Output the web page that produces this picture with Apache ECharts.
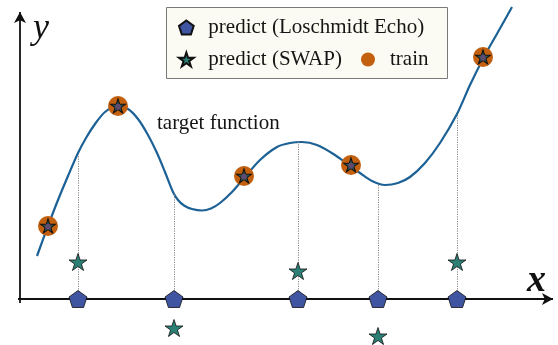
<!DOCTYPE html>
<html>
<head>
<meta charset="utf-8">
<script src="https://cdn.jsdelivr.net/npm/echarts@6/dist/echarts.min.js"></script>
<style>
  html, body { margin: 0; padding: 0; background: #ffffff; }
  #chart { width: 558px; height: 345px; }
</style>
</head>
<body>
<div id="chart"></div>
<script>
// Target function sampled along x
const curveX = [0.34, 0.56, 0.76, 0.96, 1.16, 1.32, 1.50, 1.70, 1.94, 2.16, 2.36, 2.56, 2.74, 2.90, 3.06, 3.16, 3.28, 3.44, 3.64, 3.82, 4.00, 4.24, 4.50, 4.80, 5.14, 5.40, 5.64, 5.94, 6.30, 6.60, 6.80, 7.04, 7.30, 7.56, 7.80, 8.10, 8.40, 8.74, 9.00, 9.28, 9.56, 9.84];
const curveY = [0.86, 1.46, 1.98, 2.46, 2.92, 3.22, 3.50, 3.74, 3.86, 3.80, 3.60, 3.28, 2.92, 2.54, 2.14, 1.98, 1.87, 1.80, 1.77, 1.81, 1.92, 2.14, 2.44, 2.78, 3.04, 3.12, 3.14, 3.08, 2.88, 2.66, 2.52, 2.36, 2.28, 2.32, 2.44, 2.72, 3.12, 3.70, 4.28, 4.84, 5.34, 5.84];

// Training samples (on the target function)
const trainX = [0.56, 1.96, 4.48, 6.62, 9.26];
const trainY = [1.46, 3.86, 2.46, 2.68, 4.84];

// Prediction points
const predictX = [1.16, 3.08, 5.56, 7.16, 8.74];
const targetAtPredict = [2.92, 2.12, 3.14, 2.30, 3.70];
const echoY = [0, 0, 0, 0, 0];
const swapY = [0.74, -0.58, 0.56, -0.74, 0.74];

// Axis extents
const xAxisEnd = 10.66;
const yAxisEnd = 5.74;

const PENTAGON = 'path://M0,-1 L0.951,-0.309 L0.588,0.809 L-0.588,0.809 L-0.951,-0.309 Z';
const STAR = 'path://M0,-1 L0.225,-0.309 L0.951,-0.309 L0.363,0.118 L0.588,0.809 L0,0.382 L-0.588,0.809 L-0.363,0.118 L-0.951,-0.309 L-0.225,-0.309 Z';

const zip = (a, b) => a.map((v, i) => [v, b[i]]);
const SERIF = '"Liberation Serif", "DejaVu Serif", serif';

const legendText = { fontFamily: SERIF, fontSize: 21, color: '#151515' };
function legendEntry(name, icon, left, top) {
  return {
    data: [{ name: name, icon: icon }],
    left: left, top: top, padding: 0,
    itemWidth: 34, itemHeight: 14,
    textStyle: legendText,
    selectedMode: false
  };
}

const chart = echarts.init(document.getElementById('chart'), null, { renderer: 'canvas' });

chart.setOption({
  animation: false,
  backgroundColor: '#ffffff',
  grid: { left: 0, right: 0, top: 2, bottom: 0 },
  xAxis: { type: 'value', min: -0.4, max: 10.76, show: false },
  yAxis: { type: 'value', min: -0.92, max: 5.94, show: false },
  legend: [
    legendEntry('predict (Loschmidt Echo)', PENTAGON, 178, 17),
    legendEntry('predict (SWAP)', STAR, 178, 49),
    legendEntry('train', 'circle', 361, 49)
  ],
  graphic: [
    {
      type: 'rect', z: -1, silent: true,
      shape: { x: 166.5, y: 7.5, width: 281, height: 71 },
      style: { fill: '#fbfbf3', stroke: '#7a7a7a', lineWidth: 1 }
    },
    {
      type: 'text', left: 157, top: 113, silent: true,
      style: { text: 'target function', font: '21px ' + SERIF, fill: '#151515' }
    },
    {
      type: 'text', left: 33, top: 11, silent: true,
      style: { text: 'y', font: 'italic 36px ' + SERIF, fill: '#111' }
    },
    {
      type: 'text', left: 527, top: 262, silent: true,
      style: { text: 'x', font: 'italic bold 38px ' + SERIF, fill: '#111' }
    }
  ],
  series: [
    {
      // coordinate axes with arrow heads
      name: 'axes', type: 'line', data: [], silent: true, z: 2,
      markLine: {
        silent: true, animation: false,
        symbol: ['none', 'arrow'], symbolSize: [9, 11],
        label: { show: false },
        lineStyle: { color: '#111', width: 1.8, type: 'solid' },
        data: [
          [{ coord: [-0.04, 0] }, { coord: [xAxisEnd, 0] }],
          [{ coord: [0, -0.08] }, { coord: [0, yAxisEnd] }]
        ]
      }
    },
    {
      // dotted drop lines from the target function to the axis
      name: 'drops', type: 'line', data: [], silent: true, z: 1,
      markLine: {
        silent: true, animation: false, symbol: ['none', 'none'],
        label: { show: false },
        lineStyle: { color: '#8a8a8a', width: 1, type: [1.2, 1.2] },
        data: predictX.map((x, i) => [{ coord: [x, 0] }, { coord: [x, targetAtPredict[i]] }])
      }
    },
    {
      name: 'target function', type: 'line', data: zip(curveX, curveY),
      smooth: 0.3, showSymbol: false, silent: true, z: 3,
      lineStyle: { color: '#1c6195', width: 2.2 }
    },
    {
      name: 'predict (Loschmidt Echo)', type: 'scatter', data: zip(predictX, echoY),
      symbol: PENTAGON, symbolSize: [18, 17], z: 5,
      itemStyle: { color: '#3f55a1', borderColor: '#111', borderWidth: 0.8, opacity: 1 }
    },
    {
      name: 'predict (SWAP)', type: 'scatter', data: zip(predictX, swapY),
      symbol: STAR, symbolSize: [18, 17], z: 6,
      itemStyle: { color: '#2b7f74', borderColor: '#111', borderWidth: 0.8, opacity: 1 }
    },
    {
      name: 'train', type: 'scatter', data: zip(trainX, trainY),
      symbol: 'circle', symbolSize: 20, z: 7,
      itemStyle: { color: '#c2600f', opacity: 1 }
    },
    {
      name: 'train-star', type: 'scatter', data: zip(trainX, trainY),
      symbol: STAR, symbolSize: [15, 14], z: 8, silent: true,
      itemStyle: { color: '#2d5153', borderColor: '#111', borderWidth: 1, opacity: 1 }
    },
    {
      name: 'train-core', type: 'scatter', data: zip(trainX, trainY),
      symbol: PENTAGON, symbolSize: [6, 6], symbolRotate: 180, symbolOffset: [0, 1], z: 9, silent: true,
      itemStyle: { color: '#5f4b70', opacity: 1 }
    }
  ]
});
</script>
</body>
</html>
